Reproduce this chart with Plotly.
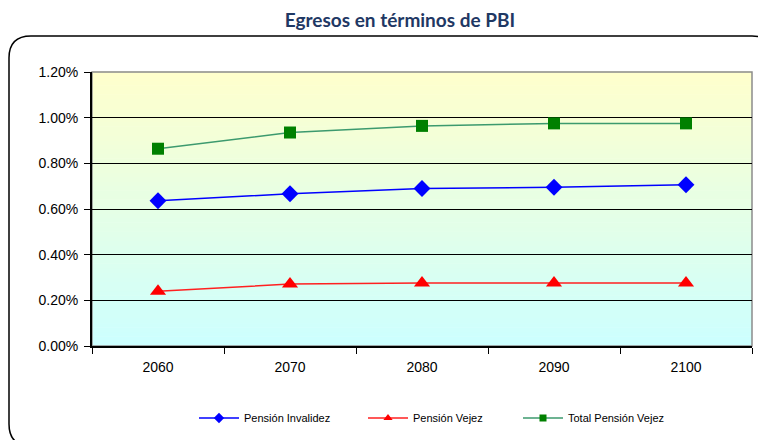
import plotly.graph_objects as go

years = ["2060", "2070", "2080", "2090", "2100"]
invalidez = [0.636, 0.667, 0.690, 0.695, 0.706]
vejez = [0.240, 0.271, 0.276, 0.276, 0.276]
total_vejez = [0.864, 0.935, 0.964, 0.975, 0.975]
y_ticks = [0.0, 0.2, 0.4, 0.6, 0.8, 1.0, 1.2]

# page body has an 8px margin, so the figure is drawn 8px in from the window edge
OFF = 8
W, H = 766 - OFF, 440 - OFF
L, R, T, B = 92 - OFF, 14, 72 - OFF, 94
PW, PH = W - L - R, H - T - B


def px(x):
    return (x - OFF - L) / PW


def py(y):
    return (H - B - (y - OFF)) / PH


def mix(c1, c2, t):
    a = [int(c1[i:i + 2], 16) for i in (1, 3, 5)]
    b = [int(c2[i:i + 2], 16) for i in (1, 3, 5)]
    return "#%02x%02x%02x" % tuple(round(a[k] + (b[k] - a[k]) * t) for k in range(3))


series = [
    ("Pensión Invalidez", invalidez, "#0000FF", "#0000FF", "diamond", 13, 8, "legend", 196),
    ("Pensión Vejez", vejez, "#FF2020", "#FF0000", "triangle-up", 14, 8, "legend2", 365),
    ("Total Pensión Vejez", total_vejez, "#3C9A6E", "#008000", "square", 12, 7, "legend3", 520),
]

fig = go.Figure()
for name, vals, lc, mc, sym, size, *_ in series:
    fig.add_trace(go.Scatter(
        x=years, y=vals, name=name, mode="lines+markers", showlegend=False,
        line=dict(color=lc, width=1.5),
        marker=dict(symbol=sym, size=size, color=mc),
    ))
# smaller symbols for the legend, one legend box per entry
legends = {}
for name, vals, lc, mc, sym, size, lsize, leg, xpos in series:
    fig.add_trace(go.Scatter(
        x=[years[0]], y=[None], name=name, mode="lines+markers", legend=leg,
        line=dict(color=lc, width=1.5),
        marker=dict(symbol=sym, size=lsize, color=mc),
        hoverinfo="skip",
    ))
    legends[leg] = dict(orientation="h", x=px(xpos - 2), xanchor="left",
                        y=py(418), yanchor="middle",
                        font=dict(size=11, color="#000000"), bgcolor="rgba(0,0,0,0)",
                        itemwidth=40)

# gradient background, below gridlines
shapes = []
n = 60
for i in range(n):
    t = i / n
    shapes.append(dict(type="rect", xref="x domain", yref="y domain",
                       x0=0, x1=1, y0=t, y1=t + 1 / n + 0.002,
                       fillcolor=mix("#CCFFFF", "#FFFFCC", t + 0.5 / n),
                       line=dict(width=0), layer="below"))
# plot area border (top/right grey)
shapes.append(dict(type="rect", xref="x domain", yref="y domain", x0=0, x1=1, y0=0, y1=1,
                   line=dict(color="#8C8C8C", width=1.5), layer="below"))

# rounded outer frame
x0, x1, y0, y1, r = 9, 774, 36, 446, 22
path = (f"M {px(x0 + r)},{py(y0)} L {px(x1 - r)},{py(y0)} "
        f"Q {px(x1)},{py(y0)} {px(x1)},{py(y0 + r)} L {px(x1)},{py(y1 - r)} "
        f"Q {px(x1)},{py(y1)} {px(x1 - r)},{py(y1)} L {px(x0 + r)},{py(y1)} "
        f"Q {px(x0)},{py(y1)} {px(x0)},{py(y1 - r)} L {px(x0)},{py(y0 + r)} "
        f"Q {px(x0)},{py(y0)} {px(x0 + r)},{py(y0)} Z")
shapes.append(dict(type="path", xref="paper", yref="paper", path=path,
                   line=dict(color="#000000", width=1.5), layer="below"))

fig.update_layout(
    width=W, height=H,
    margin=dict(l=L, r=R, t=T, b=B, autoexpand=False),
    paper_bgcolor="#FFFFFF",
    plot_bgcolor="rgba(0,0,0,0)",
    font=dict(family="Liberation Sans, Arial, sans-serif", color="#000000", size=14),
    title=dict(text="<b>Egresos en términos de PBI</b>", x=px(400), xref="paper",
               xanchor="center", y=1 - (20 - OFF) / H, yanchor="middle",
               font=dict(family="Lato, sans-serif", size=19, color="#1F3864")),
    xaxis=dict(type="category", tickson="boundaries", ticks="outside", ticklen=6,
               tickcolor="#000000", showline=True, linecolor="#000000", linewidth=1.5,
               showgrid=False, range=[-0.5, 4.5], fixedrange=True,
               ticklabelstandoff=7, automargin=False),
    yaxis=dict(range=[0, 1.2], tickvals=y_ticks,
               ticktext=[f"{v:.2f}%" for v in y_ticks],
               ticks="outside", ticklen=6, tickcolor="#000000",
               showline=True, linecolor="#000000", linewidth=2,
               showgrid=True, gridcolor="#000000", gridwidth=1,
               zeroline=False, fixedrange=True, automargin=False,
               ticklabelstandoff=3),
    shapes=shapes,
    showlegend=True,
    **legends,
)

fig.write_html("out.html")
